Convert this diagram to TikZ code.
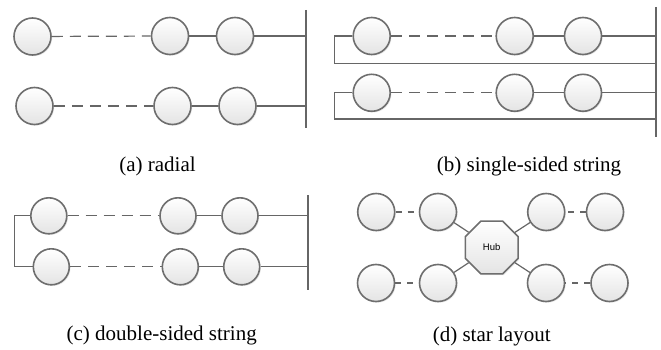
\documentclass[tikz,border=0pt]{standalone}
\usepackage{fontspec}
\setmainfont{Liberation Serif}
\newfontfamily\hubfont{Liberation Sans}
\usetikzlibrary{shapes.geometric,shadows}
\definecolor{ringgray}{HTML}{6E6E6E}
\definecolor{linegray}{HTML}{666666}
\definecolor{fillgray}{HTML}{E4E4E4}
\tikzset{
  unit/.style={circle, minimum size=37pt, inner sep=0pt, draw=ringgray, line width=1.6pt,
    top color=white, bottom color=fillgray,
    drop shadow={opacity=0.18, shadow xshift=1.2pt, shadow yshift=-1.2pt}},
  smallunit/.style={unit, minimum size=36pt},
  link/.style={draw=linegray, line width=1.2pt},
  dashlink/.style={draw=linegray, line width=1.2pt, dash pattern=on 11pt off 7pt},
  shortdash/.style={draw=linegray, line width=1.2pt, dash pattern=on 6pt off 6pt},
  busline/.style={draw=linegray, line width=1.7pt},
  hubshape/.style={regular polygon, regular polygon sides=8, minimum size=57pt, inner sep=0pt,
    draw=ringgray, line width=1.5pt, top color=white, bottom color=fillgray,
    drop shadow={opacity=0.18, shadow xshift=1.2pt, shadow yshift=-1.2pt},
    font=\hubfont\fontsize{9.5}{11}\selectfont},
  caption/.style={anchor=base, inner sep=0pt, font=\fontsize{21}{25}\selectfont}
}
\begin{document}
\begin{tikzpicture}[x=1pt,y=-1pt]
\useasboundingbox (0,0) rectangle (661,350);

% ---------- (a) radial ----------
\coordinate (abusT) at (305.7,10);
\coordinate (abusB) at (305.7,128);
\node[unit] (a11) at (32.5,36.5) {};
\node[unit] (a12) at (170,36) {};
\node[unit] (a13) at (235,36) {};
\node[unit] (a21) at (34.5,106) {};
\node[unit] (a22) at (172.5,106) {};
\node[unit] (a23) at (237.5,106) {};
\draw[dashlink] (a11) -- (a12);
\draw[link] (a12) -- (a13);
\draw[link] (a13) -- (a13 -| abusT);
\draw[dashlink] (a21) -- (a22);
\draw[link] (a22) -- (a23);
\draw[link] (a23) -- (a23 -| abusT);
\draw[busline] (abusT) -- (abusB);
\node[caption] (capa) at (157.5,171.5) {(a) radial};

% ---------- (b) single-sided string ----------
\coordinate (bbusT) at (655.7,7);
\coordinate (bbusB) at (655.7,137);
\coordinate (bL1) at (334.3,63.3);
\coordinate (bL2) at (334.3,119);
\node[unit] (b11) at (371.7,36) {};
\node[unit] (b12) at (514.7,36) {};
\node[unit] (b13) at (583,36) {};
\node[unit] (b21) at (371.7,92.8) {};
\node[unit] (b22) at (514.7,92.8) {};
\node[unit] (b23) at (583,92.8) {};
\draw[dashlink] (b11) -- (b12);
\draw[link] (b12) -- (b13);
\draw[link] (b13) -- (b13 -| bbusT);
\draw[link] (b11.west) -| (bL1) -- (bL1 -| bbusT);
\draw[dashlink] (b21) -- (b22);
\draw[link] (b22) -- (b23);
\draw[link] (b23) -- (b23 -| bbusT);
\draw[link] (b21.west) -| (bL2) -- (bL2 -| bbusT);
\draw[busline] (bbusT) -- (bbusB);
\node[caption] (capb) at (529,171.5) {(b) single-sided string};

% ---------- (c) double-sided string ----------
\coordinate (cbusT) at (308.3,195);
\coordinate (cbusB) at (308.3,290);
\coordinate (cL) at (14.3,240);
\node[smallunit] (c11) at (48.8,215.8) {};
\node[smallunit] (c12) at (178,215.8) {};
\node[smallunit] (c13) at (240,215.8) {};
\node[smallunit] (c21) at (51.3,266.8) {};
\node[smallunit] (c22) at (180.3,266.8) {};
\node[smallunit] (c23) at (241.7,266.8) {};
\draw[dashlink] (c11) -- (c12);
\draw[link] (c12) -- (c13);
\draw[link] (c13) -- (c13 -| cbusT);
\draw[dashlink] (c21) -- (c22);
\draw[link] (c22) -- (c23);
\draw[link] (c23) -- (c23 -| cbusT);
\draw[link] (c11.west) -| (cL) |- (c21.west);
\draw[busline] (cbusT) -- (cbusB);
\node[caption] (capc) at (161.7,340) {(c) double-sided string};

% ---------- (d) star layout ----------
\node[hubshape] (hub) at (491.7,247.5) {Hub};
\node[unit] (d11) at (376.2,212) {};
\node[unit] (d12) at (438,212) {};
\node[unit] (d13) at (546.2,212) {};
\node[unit] (d14) at (605,212) {};
\node[unit] (d21) at (376,283) {};
\node[unit] (d22) at (438,283) {};
\node[unit] (d23) at (546,283) {};
\node[unit] (d24) at (609.5,283) {};
\draw[shortdash] (d11) -- (d12);
\draw[shortdash] (d21) -- (d22);
\draw[shortdash] (d14) -- (d13);
\draw[shortdash] (d24) -- (d23);
\draw[link] (hub) -- (d12);
\draw[link] (hub) -- (d13);
\draw[link] (hub) -- (d22);
\draw[link] (hub) -- (d23);
\node[caption] (capd) at (491.7,341) {(d) star layout};
\end{tikzpicture}
\end{document}
